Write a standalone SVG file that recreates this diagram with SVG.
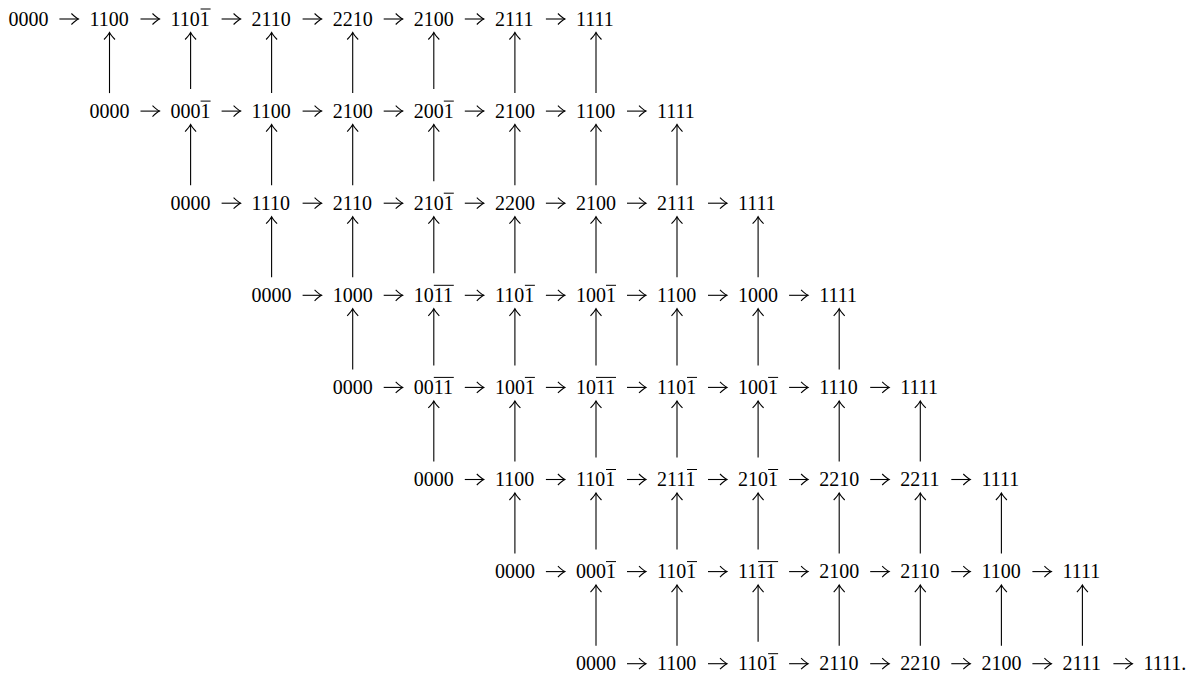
<svg xmlns="http://www.w3.org/2000/svg" width="1199" height="678" viewBox="0 0 1199 678">
<style>
text{font-family:"Liberation Serif","Times New Roman",serif;font-size:20px;fill:#000}
.bar{stroke:#000;stroke-width:1}
.c line{stroke:#000;stroke-width:1.1;marker-end:url(#ah)}
</style>
<defs>
<marker id="ah" viewBox="-9 -7 11 14" refX="0" refY="0" markerWidth="11" markerHeight="14" markerUnits="userSpaceOnUse" orient="auto">
<path d="M-7,-5.5 Q-2.5,-1.2 0,0 Q-2.5,1.2 -7,5.5" fill="none" stroke="#000" stroke-width="1.1"/>
</marker>
</defs>
<rect width="1199" height="678" fill="#fff"/>
<g id="nodes">
<g id="r0c0"><text x="8.4" y="25.5">0000</text></g>
<g id="r0c1"><text x="89.5" y="25.5">1100</text></g>
<g id="r0c2"><text x="170.6" y="25.5">1101</text><line class="bar" x1="200.6" y1="9" x2="210.6" y2="9"/></g>
<g id="r0c3"><text x="251.6" y="25.5">2110</text></g>
<g id="r0c4"><text x="332.7" y="25.5">2210</text></g>
<g id="r0c5"><text x="413.8" y="25.5">2100</text></g>
<g id="r0c6"><text x="494.9" y="25.5">2111</text></g>
<g id="r0c7"><text x="576" y="25.5">1111</text></g>

<g id="r1c1"><text x="89.5" y="117.6">0000</text></g>
<g id="r1c2"><text x="170.6" y="117.6">0001</text><line class="bar" x1="200.6" y1="101.1" x2="210.6" y2="101.1"/></g>
<g id="r1c3"><text x="251.6" y="117.6">1100</text></g>
<g id="r1c4"><text x="332.7" y="117.6">2100</text></g>
<g id="r1c5"><text x="413.8" y="117.6">2001</text><line class="bar" x1="443.8" y1="101.1" x2="453.8" y2="101.1"/></g>
<g id="r1c6"><text x="494.9" y="117.6">2100</text></g>
<g id="r1c7"><text x="576" y="117.6">1100</text></g>
<g id="r1c8"><text x="657" y="117.6">1111</text></g>

<g id="r2c2"><text x="170.6" y="209.7">0000</text></g>
<g id="r2c3"><text x="251.6" y="209.7">1110</text></g>
<g id="r2c4"><text x="332.7" y="209.7">2110</text></g>
<g id="r2c5"><text x="413.8" y="209.7">2101</text><line class="bar" x1="443.8" y1="193.2" x2="453.8" y2="193.2"/></g>
<g id="r2c6"><text x="494.9" y="209.7">2200</text></g>
<g id="r2c7"><text x="576" y="209.7">2100</text></g>
<g id="r2c8"><text x="657" y="209.7">2111</text></g>
<g id="r2c9"><text x="738.1" y="209.7">1111</text></g>

<g id="r3c3"><text x="251.6" y="301.8">0000</text></g>
<g id="r3c4"><text x="332.7" y="301.8">1000</text></g>
<g id="r3c5"><text x="413.8" y="301.8">1011</text><line class="bar" x1="433.8" y1="285.3" x2="453.8" y2="285.3"/></g>
<g id="r3c6"><text x="494.9" y="301.8">1101</text><line class="bar" x1="524.9" y1="285.3" x2="534.9" y2="285.3"/></g>
<g id="r3c7"><text x="576" y="301.8">1001</text><line class="bar" x1="606" y1="285.3" x2="616" y2="285.3"/></g>
<g id="r3c8"><text x="657" y="301.8">1100</text></g>
<g id="r3c9"><text x="738.1" y="301.8">1000</text></g>
<g id="r3c10"><text x="819.2" y="301.8">1111</text></g>

<g id="r4c4"><text x="332.7" y="393.9">0000</text></g>
<g id="r4c5"><text x="413.8" y="393.9">0011</text><line class="bar" x1="433.8" y1="377.4" x2="453.8" y2="377.4"/></g>
<g id="r4c6"><text x="494.9" y="393.9">1001</text><line class="bar" x1="524.9" y1="377.4" x2="534.9" y2="377.4"/></g>
<g id="r4c7"><text x="576" y="393.9">1011</text><line class="bar" x1="596" y1="377.4" x2="616" y2="377.4"/></g>
<g id="r4c8"><text x="657" y="393.9">1101</text><line class="bar" x1="687" y1="377.4" x2="697" y2="377.4"/></g>
<g id="r4c9"><text x="738.1" y="393.9">1001</text><line class="bar" x1="768.1" y1="377.4" x2="778.1" y2="377.4"/></g>
<g id="r4c10"><text x="819.2" y="393.9">1110</text></g>
<g id="r4c11"><text x="900.3" y="393.9">1111</text></g>

<g id="r5c5"><text x="413.8" y="486">0000</text></g>
<g id="r5c6"><text x="494.9" y="486">1100</text></g>
<g id="r5c7"><text x="576" y="486">1101</text><line class="bar" x1="606" y1="469.5" x2="616" y2="469.5"/></g>
<g id="r5c8"><text x="657" y="486">2111</text><line class="bar" x1="687" y1="469.5" x2="697" y2="469.5"/></g>
<g id="r5c9"><text x="738.1" y="486">2101</text><line class="bar" x1="768.1" y1="469.5" x2="778.1" y2="469.5"/></g>
<g id="r5c10"><text x="819.2" y="486">2210</text></g>
<g id="r5c11"><text x="900.3" y="486">2211</text></g>
<g id="r5c12"><text x="981.4" y="486">1111</text></g>

<g id="r6c6"><text x="494.9" y="578.1">0000</text></g>
<g id="r6c7"><text x="576" y="578.1">0001</text><line class="bar" x1="606" y1="561.6" x2="616" y2="561.6"/></g>
<g id="r6c8"><text x="657" y="578.1">1101</text><line class="bar" x1="687" y1="561.6" x2="697" y2="561.6"/></g>
<g id="r6c9"><text x="738.1" y="578.1">1111</text><line class="bar" x1="758.1" y1="561.6" x2="778.1" y2="561.6"/></g>
<g id="r6c10"><text x="819.2" y="578.1">2100</text></g>
<g id="r6c11"><text x="900.3" y="578.1">2110</text></g>
<g id="r6c12"><text x="981.4" y="578.1">1100</text></g>
<g id="r6c13"><text x="1062.4" y="578.1">1111</text></g>

<g id="r7c7"><text x="576" y="670.2">0000</text></g>
<g id="r7c8"><text x="657" y="670.2">1100</text></g>
<g id="r7c9"><text x="738.1" y="670.2">1101</text><line class="bar" x1="768.1" y1="653.7" x2="778.1" y2="653.7"/></g>
<g id="r7c10"><text x="819.2" y="670.2">2110</text></g>
<g id="r7c11"><text x="900.3" y="670.2">2210</text></g>
<g id="r7c12"><text x="981.4" y="670.2">2100</text></g>
<g id="r7c13"><text x="1062.4" y="670.2">2111</text></g>
<g id="r7c14"><text x="1143.5" y="670.2">1111.</text></g>
</g>

<g id="connectors" class="c">
<!-- horizontal, row 0 -->
<line x1="59.4" y1="19" x2="78.4" y2="19"/>
<line x1="140.5" y1="19" x2="159.5" y2="19"/>
<line x1="221.6" y1="19" x2="240.6" y2="19"/>
<line x1="302.6" y1="19" x2="321.6" y2="19"/>
<line x1="383.7" y1="19" x2="402.7" y2="19"/>
<line x1="464.8" y1="19" x2="483.8" y2="19"/>
<line x1="545.9" y1="19" x2="564.9" y2="19"/>
<!-- row 1 -->
<line x1="140.5" y1="111.1" x2="159.5" y2="111.1"/>
<line x1="221.6" y1="111.1" x2="240.6" y2="111.1"/>
<line x1="302.6" y1="111.1" x2="321.6" y2="111.1"/>
<line x1="383.7" y1="111.1" x2="402.7" y2="111.1"/>
<line x1="464.8" y1="111.1" x2="483.8" y2="111.1"/>
<line x1="545.9" y1="111.1" x2="564.9" y2="111.1"/>
<line x1="627" y1="111.1" x2="646" y2="111.1"/>
<!-- row 2 -->
<line x1="221.6" y1="203.2" x2="240.6" y2="203.2"/>
<line x1="302.6" y1="203.2" x2="321.6" y2="203.2"/>
<line x1="383.7" y1="203.2" x2="402.7" y2="203.2"/>
<line x1="464.8" y1="203.2" x2="483.8" y2="203.2"/>
<line x1="545.9" y1="203.2" x2="564.9" y2="203.2"/>
<line x1="627" y1="203.2" x2="646" y2="203.2"/>
<line x1="708" y1="203.2" x2="727" y2="203.2"/>
<!-- row 3 -->
<line x1="302.6" y1="295.3" x2="321.6" y2="295.3"/>
<line x1="383.7" y1="295.3" x2="402.7" y2="295.3"/>
<line x1="464.8" y1="295.3" x2="483.8" y2="295.3"/>
<line x1="545.9" y1="295.3" x2="564.9" y2="295.3"/>
<line x1="627" y1="295.3" x2="646" y2="295.3"/>
<line x1="708" y1="295.3" x2="727" y2="295.3"/>
<line x1="789.1" y1="295.3" x2="808.1" y2="295.3"/>
<!-- row 4 -->
<line x1="383.7" y1="387.4" x2="402.7" y2="387.4"/>
<line x1="464.8" y1="387.4" x2="483.8" y2="387.4"/>
<line x1="545.9" y1="387.4" x2="564.9" y2="387.4"/>
<line x1="627" y1="387.4" x2="646" y2="387.4"/>
<line x1="708" y1="387.4" x2="727" y2="387.4"/>
<line x1="789.1" y1="387.4" x2="808.1" y2="387.4"/>
<line x1="870.2" y1="387.4" x2="889.2" y2="387.4"/>
<!-- row 5 -->
<line x1="464.8" y1="479.5" x2="483.8" y2="479.5"/>
<line x1="545.9" y1="479.5" x2="564.9" y2="479.5"/>
<line x1="627" y1="479.5" x2="646" y2="479.5"/>
<line x1="708" y1="479.5" x2="727" y2="479.5"/>
<line x1="789.1" y1="479.5" x2="808.1" y2="479.5"/>
<line x1="870.2" y1="479.5" x2="889.2" y2="479.5"/>
<line x1="951.3" y1="479.5" x2="970.3" y2="479.5"/>
<!-- row 6 -->
<line x1="545.9" y1="571.6" x2="564.9" y2="571.6"/>
<line x1="627" y1="571.6" x2="646" y2="571.6"/>
<line x1="708" y1="571.6" x2="727" y2="571.6"/>
<line x1="789.1" y1="571.6" x2="808.1" y2="571.6"/>
<line x1="870.2" y1="571.6" x2="889.2" y2="571.6"/>
<line x1="951.3" y1="571.6" x2="970.3" y2="571.6"/>
<line x1="1032.4" y1="571.6" x2="1051.4" y2="571.6"/>
<!-- row 7 -->
<line x1="627" y1="663.7" x2="646" y2="663.7"/>
<line x1="708" y1="663.7" x2="727" y2="663.7"/>
<line x1="789.1" y1="663.7" x2="808.1" y2="663.7"/>
<line x1="870.2" y1="663.7" x2="889.2" y2="663.7"/>
<line x1="951.3" y1="663.7" x2="970.3" y2="663.7"/>
<line x1="1032.4" y1="663.7" x2="1051.4" y2="663.7"/>
<line x1="1113.4" y1="663.7" x2="1132.4" y2="663.7"/>

<!-- vertical, row 1 to row 0 -->
<line x1="109.5" y1="93.1" x2="109.5" y2="32.5"/>
<line x1="190.6" y1="89.1" x2="190.6" y2="32.5"/>
<line x1="271.6" y1="93.1" x2="271.6" y2="32.5"/>
<line x1="352.7" y1="93.1" x2="352.7" y2="32.5"/>
<line x1="433.8" y1="89.1" x2="433.8" y2="32.5"/>
<line x1="514.9" y1="93.1" x2="514.9" y2="32.5"/>
<line x1="596" y1="93.1" x2="596" y2="32.5"/>
<!-- row 2 to row 1 -->
<line x1="190.6" y1="185.2" x2="190.6" y2="124.6"/>
<line x1="271.6" y1="185.2" x2="271.6" y2="124.6"/>
<line x1="352.7" y1="185.2" x2="352.7" y2="124.6"/>
<line x1="433.8" y1="181.2" x2="433.8" y2="124.6"/>
<line x1="514.9" y1="185.2" x2="514.9" y2="124.6"/>
<line x1="596" y1="185.2" x2="596" y2="124.6"/>
<line x1="677" y1="185.2" x2="677" y2="124.6"/>
<!-- row 3 to row 2 -->
<line x1="271.6" y1="277.3" x2="271.6" y2="216.7"/>
<line x1="352.7" y1="277.3" x2="352.7" y2="216.7"/>
<line x1="433.8" y1="273.3" x2="433.8" y2="216.7"/>
<line x1="514.9" y1="273.3" x2="514.9" y2="216.7"/>
<line x1="596" y1="273.3" x2="596" y2="216.7"/>
<line x1="677" y1="277.3" x2="677" y2="216.7"/>
<line x1="758.1" y1="277.3" x2="758.1" y2="216.7"/>
<!-- row 4 to row 3 -->
<line x1="352.7" y1="369.4" x2="352.7" y2="308.8"/>
<line x1="433.8" y1="365.4" x2="433.8" y2="308.8"/>
<line x1="514.9" y1="365.4" x2="514.9" y2="308.8"/>
<line x1="596" y1="365.4" x2="596" y2="308.8"/>
<line x1="677" y1="365.4" x2="677" y2="308.8"/>
<line x1="758.1" y1="365.4" x2="758.1" y2="308.8"/>
<line x1="839.2" y1="369.4" x2="839.2" y2="308.8"/>
<!-- row 5 to row 4 -->
<line x1="433.8" y1="461.5" x2="433.8" y2="400.9"/>
<line x1="514.9" y1="461.5" x2="514.9" y2="400.9"/>
<line x1="596" y1="457.5" x2="596" y2="400.9"/>
<line x1="677" y1="457.5" x2="677" y2="400.9"/>
<line x1="758.1" y1="457.5" x2="758.1" y2="400.9"/>
<line x1="839.2" y1="461.5" x2="839.2" y2="400.9"/>
<line x1="920.3" y1="461.5" x2="920.3" y2="400.9"/>
<!-- row 6 to row 5 -->
<line x1="514.9" y1="553.6" x2="514.9" y2="493"/>
<line x1="596" y1="549.6" x2="596" y2="493"/>
<line x1="677" y1="549.6" x2="677" y2="493"/>
<line x1="758.1" y1="549.6" x2="758.1" y2="493"/>
<line x1="839.2" y1="553.6" x2="839.2" y2="493"/>
<line x1="920.3" y1="553.6" x2="920.3" y2="493"/>
<line x1="1001.4" y1="553.6" x2="1001.4" y2="493"/>
<!-- row 7 to row 6 -->
<line x1="596" y1="645.7" x2="596" y2="585.1"/>
<line x1="677" y1="645.7" x2="677" y2="585.1"/>
<line x1="758.1" y1="641.7" x2="758.1" y2="585.1"/>
<line x1="839.2" y1="645.7" x2="839.2" y2="585.1"/>
<line x1="920.3" y1="645.7" x2="920.3" y2="585.1"/>
<line x1="1001.4" y1="645.7" x2="1001.4" y2="585.1"/>
<line x1="1082.4" y1="645.7" x2="1082.4" y2="585.1"/>
</g>
</svg>
